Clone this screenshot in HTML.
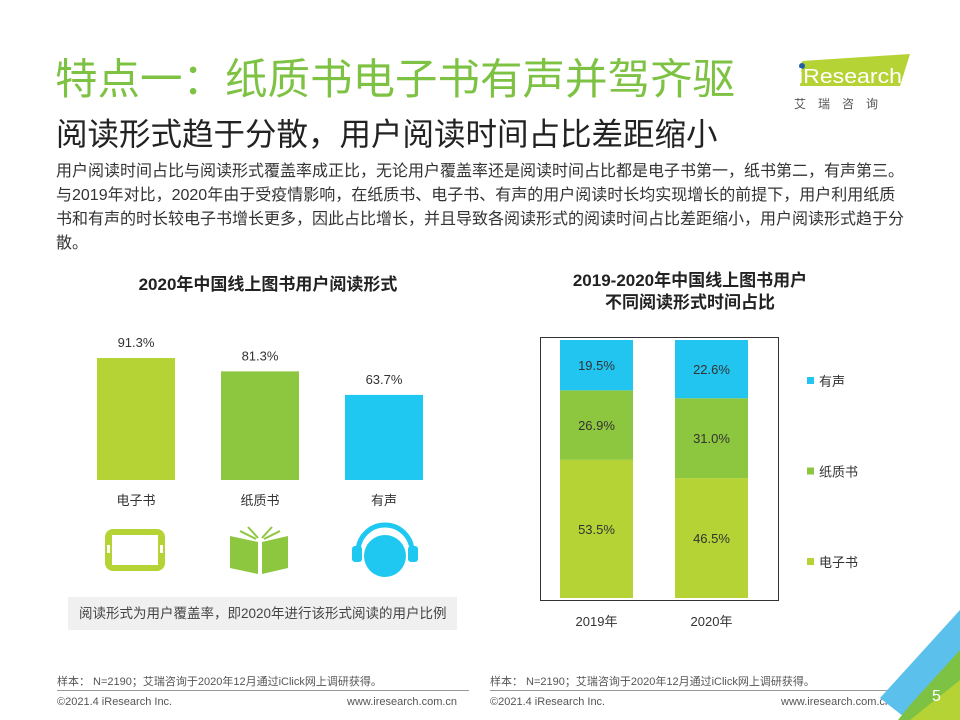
<!DOCTYPE html>
<html><head><meta charset="utf-8">
<style>
body{margin:0;background:#fff;font-family:"Liberation Sans","Noto Sans CJK SC",sans-serif;}
#page{position:relative;width:960px;height:720px;overflow:hidden;background:#fff;}
.abs{position:absolute;white-space:nowrap;}
</style></head><body>
<div id="page">
<div class="abs" style="left:55px;top:56px;font-size:42.5px;line-height:50px;color:#7dc242;">特点一：纸质书电子书有声并驾齐驱</div>
<div class="abs" style="left:56px;top:114px;font-size:31.5px;line-height:40px;color:#222;">阅读形式趋于分散，用户阅读时间占比差距缩小</div>
<div class="abs" style="left:56px;top:160px;font-size:16px;line-height:24px;color:#333;">用户阅读时间占比与阅读形式覆盖率成正比，无论用户覆盖率还是阅读时间占比都是电子书第一，纸书第二，有声第三。<br>与2019年对比，2020年由于受疫情影响，在纸质书、电子书、有声的用户阅读时长均实现增长的前提下，用户利用纸质<br>书和有声的时长较电子书增长更多，因此占比增长，并且导致各阅读形式的阅读时间占比差距缩小，用户阅读形式趋于分<br>散。</div>

<svg class="abs" style="left:790px;top:48px" width="130" height="64">
<polygon points="12,13 120,6 110,38 10,38" fill="#b5d334"/>
<circle cx="12" cy="18" r="3" fill="#1f5fa8"/>
<text x="8" y="35" font-size="20" fill="#fff" font-family="Liberation Sans" textLength="104" lengthAdjust="spacingAndGlyphs">iResearch</text>
<text x="4" y="60" font-size="12" fill="#555" letter-spacing="12" font-family="Noto Sans CJK SC">艾瑞咨询</text>
</svg>

<div class="abs" style="left:68px;width:400px;text-align:center;top:270px;font-size:17px;font-weight:bold;color:#222;">2020年中国线上图书用户阅读形式</div>
<svg id="left" class="abs" style="left:0;top:0" width="480" height="600"></svg>

<svg class="abs" style="left:100px;top:526px" width="70" height="50">
<rect x="5" y="3" width="60" height="42" rx="8" fill="#b5d334"/><rect x="12" y="9" width="46" height="30" fill="#fff"/>
<rect x="7" y="19" width="3" height="8" fill="#fff"/><rect x="60" y="19" width="3" height="8" fill="#fff"/></svg>
<svg class="abs" style="left:228px;top:524px" width="64" height="52">
<polygon points="2,12 30,18 30,50 2,44" fill="#8dc63f"/><polygon points="34,18 60,12 60,44 34,50" fill="#8dc63f"/>
<line x1="20" y1="3" x2="30" y2="14" stroke="#8dc63f" stroke-width="2"/><line x1="44" y1="3" x2="34" y2="14" stroke="#8dc63f" stroke-width="2"/>
<line x1="12" y1="7" x2="28" y2="15" stroke="#8dc63f" stroke-width="2"/><line x1="52" y1="7" x2="36" y2="15" stroke="#8dc63f" stroke-width="2"/></svg>
<svg class="abs" style="left:350px;top:522px" width="70" height="56">
<path d="M8,30 A27,27 0 0 1 62,30" stroke="#1ec8f0" stroke-width="5" fill="none"/>
<rect x="2" y="24" width="10" height="16" rx="3" fill="#1ec8f0"/><rect x="58" y="24" width="10" height="16" rx="3" fill="#1ec8f0"/>
<circle cx="35" cy="34" r="21" fill="#1ec8f0"/></svg>

<div class="abs" style="left:68px;top:597px;width:389px;height:33px;background:#f0f0f0;font-size:13.5px;line-height:33px;color:#444;padding-left:11px;box-sizing:border-box;overflow:hidden;">阅读形式为用户覆盖率，即2020年进行该形式阅读的用户比例</div>

<div class="abs" style="left:520px;width:340px;text-align:center;top:270px;font-size:17px;font-weight:bold;color:#222;line-height:22px;">2019-2020年中国线上图书用户<br>不同阅读形式时间占比</div>
<svg id="right" class="abs" style="left:0;top:0" width="960" height="640"></svg>

<div class="abs" style="left:57px;top:673px;font-size:11px;color:#555;">样本： N=2190；艾瑞咨询于2020年12月通过iClick网上调研获得。</div>
<div class="abs" style="left:490px;top:673px;font-size:11px;color:#555;">样本： N=2190；艾瑞咨询于2020年12月通过iClick网上调研获得。</div>
<div class="abs" style="left:57px;top:690px;width:412px;height:1px;background:#999;"></div>
<div class="abs" style="left:490px;top:690px;width:412px;height:1px;background:#999;"></div>
<div class="abs" style="left:57px;top:696px;font-size:11px;color:#555;">©2021.4 iResearch Inc.</div>
<div class="abs" style="left:347px;top:696px;font-size:11px;color:#555;">www.iresearch.com.cn</div>
<div class="abs" style="left:490px;top:696px;font-size:11px;color:#555;">©2021.4 iResearch Inc.</div>
<div class="abs" style="left:781px;top:696px;font-size:11px;color:#555;">www.iresearch.com.cn</div>
<svg class="abs" style="left:880px;top:610px" width="80" height="110">
<polygon points="80,0 80,110 28,110 0,88" fill="#5bc0eb"/>
<polygon points="80,40 80,110 18,110 30,95" fill="#7dc242"/>
<polygon points="80,70 80,110 30,110" fill="#b5d334"/></svg>
<div class="abs" style="left:932px;top:688px;font-size:16px;color:#fff;">5</div>
</div>
<script>
const covCats=["电子书","纸质书","有声"];
const covVals=[91.3,81.3,63.7];
const covColors=["#b5d334","#8dc63f","#1ec8f0"];
const years=["2019年","2020年"];
const ebookVals=[53.5,46.5];
const paperVals=[26.9,31.0];
const audioVals=[19.5,22.6];
const legendNames=["有声","纸质书","电子书"];
const NS="http://www.w3.org/2000/svg";
function mk(svg,tag,attrs,txt){const e=document.createElementNS(NS,tag);for(const k in attrs)e.setAttribute(k,attrs[k]);if(txt!=null)e.textContent=txt;svg.appendChild(e);return e;}
const L=document.getElementById('left');
const baseY=480,sc=1.336;
function ly(v){return baseY-v*sc;}
covCats.forEach((c,i)=>{
 const x=97+i*124;
 const r=mk(L,'rect',{x:x,y:ly(covVals[i]),width:78,height:baseY-ly(covVals[i]),fill:covColors[i]});
 
 
 const t=mk(L,'text',{x:x+39,y:ly(covVals[i])-11,'text-anchor':'middle','font-size':13,fill:'#333'},covVals[i].toFixed(1)+'%');
 
 
 const l=mk(L,'text',{x:x+39,y:505,'text-anchor':'middle','font-size':13,fill:'#333'},c);
 
 
});
const R=document.getElementById('right');
const fr=mk(R,'rect',{x:540.5,y:337.5,width:238,height:263,fill:'none',stroke:'#333','stroke-width':1});


const plotTop=340,plotBot=598;
function ry(v){return plotBot-(v/100)*(plotBot-plotTop);}
const series=[{n:"电子书",v:ebookVals,c:"#b5d334"},{n:"纸质书",v:paperVals,c:"#8dc63f"},{n:"有声",v:audioVals,c:"#22c4f0"}];
years.forEach((yr,i)=>{
 const x=560+i*115;let acc=0;
 const tot=ebookVals[i]+paperVals[i]+audioVals[i];
 series.forEach(s=>{
  const v=s.v[i]/tot*100;
  const y1=ry(acc),y2=ry(acc+v);acc+=v;
  const r=mk(R,'rect',{x:x,y:y2,width:73,height:y1-y2,fill:s.c});
  
  
  const t=mk(R,'text',{x:x+36.5,y:(y1+y2)/2+5,'text-anchor':'middle','font-size':13,fill:'#333'},s.v[i].toFixed(1)+'%');
  
  
 });
 const l=mk(R,'text',{x:x+36.5,y:626,'text-anchor':'middle','font-size':13,fill:'#333'},yr);
 
 
});
const lc={"有声":"#22c4f0","纸质书":"#8dc63f","电子书":"#b5d334"};
legendNames.forEach((n,i)=>{
 const y=381+i*90.5;
 const s=mk(R,'rect',{x:807,y:y-4,width:7,height:7,fill:lc[n]});
 
 
 const t=mk(R,'text',{x:819,y:y+5,'font-size':13,fill:'#333'},n);
 
 
});
</script>
</body></html>
